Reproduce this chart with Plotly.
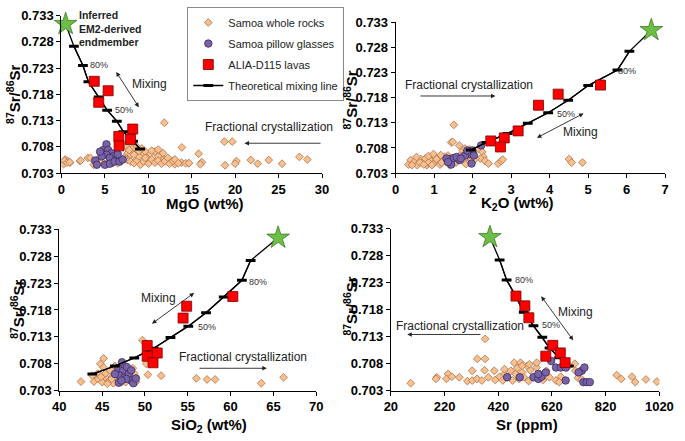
import plotly.graph_objects as go

# ---------------- DATA ----------------
# Panel 1: MgO (wt%) vs 87Sr/86Sr
mgo_wr = [11.86, 18.77, 19.67, 13.87, 15.80, 16.17, 16.0, 18.85, 20.15, 20.0, 21.8, 22.6, 23.87, 25.4, 27.4, 28.3,
          14.65, 13.83, 13.05, 12.27, 11.67, 11.5, 0.26, 0.45, 0.74, 1.0, 2.16, 3.05, 4.0, 0.37, 0.67, 0.97, 2.23,
          3.35, 3.72, 7.43, 8.18, 7.62, 7.99, 8.55, 9.29, 9.66, 10.22, 10.78, 11.15, 11.7, 7.62, 7.99, 8.36, 8.73,
          9.1, 9.48, 9.85, 10.04, 10.41, 10.78, 11.15, 11.52, 11.9, 12.27, 12.45, 12.82, 13.08, 13.46, 14.31, 14.68,
          8.92, 9.66, 7.25, 6.88, 6.5, 5.95, 5.39, 4.83, 4.46, 4.16, 8.36, 8.92, 7.8, 8.73, 9.29, 10.4, 11.15]
sr_mgo_wr = [0.7126, 0.7090, 0.7090, 0.7079, 0.7067, 0.7051, 0.7047, 0.7045, 0.7053, 0.7048, 0.7055, 0.7048, 0.7055,
             0.7048, 0.7061, 0.7056, 0.7049, 0.7050, 0.7047, 0.7051, 0.7059, 0.7068, 0.7047, 0.7056, 0.7053, 0.7050,
             0.7053, 0.7059, 0.7048, 0.7054, 0.7050, 0.7051, 0.7054, 0.7059, 0.7046, 0.7083, 0.7077, 0.7068, 0.7065,
             0.7068, 0.7066, 0.7071, 0.7066, 0.7071, 0.7062, 0.7068, 0.7055, 0.7052, 0.7049, 0.7054, 0.7046, 0.7052,
             0.7059, 0.7048, 0.7056, 0.7050, 0.7054, 0.7048, 0.7053, 0.7059, 0.7048, 0.7053, 0.7056, 0.7049, 0.7049,
             0.7049, 0.7062, 0.7059, 0.7059, 0.7052, 0.7049, 0.7049, 0.7051, 0.7049, 0.7052, 0.7056, 0.7065, 0.7072,
             0.7074, 0.7080, 0.7077, 0.7073, 0.7075]
mgo_gl = [5.2, 4.83, 5.39, 5.76, 5.2, 4.65, 5.95, 5.58, 6.32, 3.9, 4.09, 5.02, 5.58, 6.13, 6.69, 7.06, 6.5, 4.46]
sr_mgo_gl = [0.7085, 0.7074, 0.7074, 0.7068, 0.7065, 0.7062, 0.7062, 0.7059, 0.7056, 0.7054, 0.7046, 0.7046, 0.7048,
             0.7052, 0.7052, 0.7056, 0.7066, 0.7071]

# ALIA-D115 lavas (same 7 samples in every panel)
lava_sr = [0.7205, 0.7187, 0.7165, 0.7114, 0.7100, 0.7094, 0.7082]
lava_mgo = [3.79, 5.39, 4.31, 8.22, 6.62, 7.96, 6.65]
lava_k2o = [5.32, 4.22, 3.71, 3.18, 2.82, 2.47, 2.72]
lava_sio2 = [60.26, 54.87, 54.45, 50.26, 51.43, 50.26, 50.94]
lava_srppm = [486, 519, 534, 623, 651, 597, 669]

# Theoretical mixing line (endmember star first, then 10% steps)
mix_sr = [0.7314, 0.7272, 0.7235, 0.7204, 0.7175, 0.7150, 0.7129, 0.7109, 0.7091, 0.7076, 0.7061]
mix_mgo = [0.5, 1.45, 2.49, 3.12, 4.31, 5.28, 6.39, 7.14, 8.25, 9.07]
mix_k2o = [6.64, 6.07, 5.76, 5.00, 4.48, 3.96, 3.43, 2.91, 2.36, 1.95]
mix_sio2 = [65.55, 62.34, 61.32, 59.2, 57.13, 55.06, 52.98, 51.02, 48.75, 46.49, 43.85]
mix_srppm = [389, 425, 451, 486, 515, 551, 584, 611, 647, 683]
star_sr = 0.7314

# Panel 2: K2O
k2o_wr = [1.51, 1.44, 1.48, 1.65, 1.74, 1.80, 1.92, 2.05, 2.15, 2.25, 2.28, 2.2, 2.32, 2.41, 2.66, 2.74, 2.78, 4.5,
          4.57, 4.85, 0.33, 0.39, 0.48, 0.56, 0.65, 0.71, 0.81, 0.9, 0.98, 1.02, 1.11, 1.15, 1.23, 1.32, 1.36, 1.4,
          1.48, 1.57, 1.65, 1.74, 1.82, 1.9, 1.99, 2.07, 0.54, 0.63, 0.77, 0.85, 0.94, 1.06, 1.19, 1.28, 0.85, 0.73,
          0.42, 0.98, 1.17, 1.86, 1.78, 1.94]
sr_k2o_wr = [0.7126, 0.7091, 0.7092, 0.7085, 0.7075, 0.7079, 0.7077, 0.7075, 0.7078, 0.7072, 0.7062, 0.7059, 0.7054,
             0.7049, 0.7049, 0.7054, 0.7057, 0.7058, 0.7051, 0.7051, 0.7047, 0.7056, 0.7052, 0.7046, 0.7058, 0.7052,
             0.7046, 0.7056, 0.7049, 0.7062, 0.7054, 0.7047, 0.7059, 0.7052, 0.7065, 0.7046, 0.7059, 0.7051, 0.7064,
             0.7056, 0.7048, 0.7062, 0.7052, 0.7059, 0.7062, 0.7051, 0.7059, 0.7051, 0.7046, 0.7058, 0.7051, 0.7063,
             0.7064, 0.7047, 0.7046, 0.7068, 0.7066, 0.7069, 0.7067, 0.7053]
k2o_gl = [2.22, 1.99, 1.9, 2.03, 1.97, 1.4, 1.5, 1.44, 1.65, 1.58, 1.32, 1.8, 1.69, 1.36, 1.86]
sr_k2o_gl = [0.7085, 0.7075, 0.7068, 0.7065, 0.7049, 0.7058, 0.7060, 0.7047, 0.7056, 0.7062, 0.7059, 0.7065, 0.7059,
             0.7052, 0.7075]

# Panel 3: SiO2
sio2_wr = [49.7, 42.53, 45.17, 44.79, 45.17, 43.85, 44.04, 50.15, 50.34, 51.89, 56.0, 57.25, 58.19, 63.58, 66.19,
           44.53, 45.0, 45.43, 45.85, 46.3, 46.75, 45.36, 45.92, 46.5, 47.0, 47.43, 47.89, 48.38, 48.75, 48.1, 48.57,
           48.94, 47.28, 46.3, 45.62, 46.87, 47.62, 44.49, 44.87, 46.68, 46.11, 47.74, 48.57]
sr_sio2_wr = [0.7124, 0.7047, 0.7090, 0.7080, 0.7073, 0.7058, 0.7047, 0.7080, 0.7060, 0.7058, 0.7053, 0.7051, 0.7051,
              0.7044, 0.7055, 0.7052, 0.7046, 0.7054, 0.7049, 0.7058, 0.7050, 0.7062, 0.7068, 0.7076, 0.7064, 0.7055,
              0.7061, 0.7052, 0.7062, 0.7070, 0.7072, 0.7046, 0.7046, 0.7044, 0.7043, 0.7067, 0.7076, 0.7062, 0.7056,
              0.7055, 0.7052, 0.7046, 0.7046]
sio2_gl = [47.32, 46.87, 47.43, 47.89, 47.06, 47.62, 48.11, 48.38, 46.94, 48.64, 48.94, 46.49, 47.81, 47.25, 48.38]
sr_sio2_gl = [0.7083, 0.7072, 0.7067, 0.7074, 0.7058, 0.7055, 0.7061, 0.7049, 0.7045, 0.7044, 0.7053, 0.7061, 0.7052,
              0.7049, 0.7068]

# Panel 4: Sr (ppm)
srppm_wr = [94, 191, 188, 233, 227, 247, 275, 305, 323, 341, 342, 371, 369, 371, 359, 383, 405, 409, 425, 437, 443,
            455, 467, 473, 479, 485, 491, 497, 503, 509, 515, 527, 533, 539, 551, 563, 575, 587, 599, 611, 635, 653,
            677, 705, 707, 717, 731, 861, 878, 918, 930, 970, 1011, 323, 443, 509, 563, 536, 647]
sr_srppm_wr = [0.7044, 0.7055, 0.7052, 0.7061, 0.7052, 0.7056, 0.7055, 0.7048, 0.7049, 0.7052, 0.7089, 0.7089, 0.7068,
               0.7126, 0.7049, 0.7055, 0.7067, 0.7050, 0.7056, 0.7049, 0.7061, 0.7055, 0.7067, 0.7049, 0.7082, 0.7061,
               0.7072, 0.7052, 0.7082, 0.7064, 0.7055, 0.7076, 0.7048, 0.7068, 0.7055, 0.7073, 0.7061, 0.7050, 0.7067,
               0.7055, 0.7049, 0.7056, 0.7073, 0.7080, 0.7067, 0.7054, 0.7051, 0.7059, 0.7052, 0.7056, 0.7046, 0.7051,
               0.7047, 0.7067, 0.7070, 0.7076, 0.7082, 0.7079, 0.7046]
srppm_gl = [453, 500, 551, 569, 581, 597, 617, 635, 653, 671, 671, 731, 741, 719, 737, 749, 761, 569]
sr_srppm_gl = [0.7055, 0.7055, 0.7055, 0.7052, 0.7056, 0.7064, 0.7085, 0.7073, 0.7073, 0.7073, 0.7049, 0.7067, 0.7073,
               0.7064, 0.7046, 0.7046, 0.7046, 0.7061]

y_ticks = [0.703, 0.708, 0.713, 0.718, 0.723, 0.728, 0.733]
x_ticks = [[0, 5, 10, 15, 20, 25, 30], [0, 1, 2, 3, 4, 5, 6, 7],
           [40, 45, 50, 55, 60, 65, 70], [20, 220, 420, 620, 820, 1020]]
x_titles = ["MgO (wt%)", "K<sub>2</sub>O (wt%)", "SiO<sub>2</sub> (wt%)", "Sr (ppm)"]
y_title = "<sup>87</sup>Sr/<sup>86</sup>Sr"

# ---------------- STYLE ----------------
FONT = "Arial, Liberation Sans, sans-serif"
WR = dict(symbol="diamond", size=6, color="#F9BF8C", line=dict(color="#A87450", width=0.8))
GL = dict(symbol="circle", size=7.5, color="#7A62A6", line=dict(color="#3A2C5E", width=0.8))
LV = dict(symbol="square", size=10, color="#FF0000", line=dict(color="#7A0000", width=0.8))
ST = dict(symbol="star", size=17, color="#6CBE45", line=dict(color="#3F7A2A", width=0.8))
MX = dict(symbol="line-ew", size=7, line=dict(color="black", width=3))

panels = [
    dict(xa="x", ya="y", wr=(mgo_wr, sr_mgo_wr), gl=(mgo_gl, sr_mgo_gl), lv=lava_mgo, mx=mix_mgo,
         xd=[56 / 685, 325 / 685], yd=[1 - 172 / 441, 1 - 9 / 441], xr=[0, 30]),
    dict(xa="x2", ya="y2", wr=(k2o_wr, sr_k2o_wr), gl=(k2o_gl, sr_k2o_gl), lv=lava_k2o, mx=mix_k2o,
         xd=[401 / 685, 679 / 685], yd=[1 - 172 / 441, 1 - 15.7 / 441], xr=[0, 7]),
    dict(xa="x3", ya="y3", wr=(sio2_wr, sr_sio2_wr), gl=(sio2_gl, sr_sio2_gl), lv=lava_sio2, mx=mix_sio2,
         xd=[54 / 685, 319 / 685], yd=[1 - 397.3 / 441, 1 - 230 / 441], xr=[40, 70]),
    dict(xa="x4", ya="y4", wr=(srppm_wr, sr_srppm_wr), gl=(srppm_gl, sr_srppm_gl), lv=lava_srppm, mx=mix_srppm,
         xd=[396 / 685, 673 / 685], yd=[1 - 397.3 / 441, 1 - 229.3 / 441], xr=[20, 1020]),
]

fig = go.Figure()
for i, p in enumerate(panels):
    first = i == 0
    fig.add_trace(go.Scatter(x=p["wr"][0], y=p["wr"][1], mode="markers", marker=WR, name="Samoa whole rocks",
                             xaxis=p["xa"], yaxis=p["ya"], showlegend=first, legendrank=1, legendgroup="g1"))
    fig.add_trace(go.Scatter(x=p["gl"][0], y=p["gl"][1], mode="markers", marker=GL, name="Samoa pillow glasses",
                             xaxis=p["xa"], yaxis=p["ya"], showlegend=first, legendrank=2, legendgroup="g2"))
    n = len(p["mx"])
    fig.add_trace(go.Scatter(x=p["mx"], y=mix_sr[:n], mode="lines", line=dict(color="black", width=1.3),
                             xaxis=p["xa"], yaxis=p["ya"], showlegend=False, hoverinfo="skip"))
    fig.add_trace(go.Scatter(x=p["mx"][1:], y=mix_sr[1:n], mode="lines+markers", marker=MX,
                             line=dict(color="black", width=1.3), name="Theoretical mixing line",
                             xaxis=p["xa"], yaxis=p["ya"], showlegend=first, legendrank=4, legendgroup="g4"))
    fig.add_trace(go.Scatter(x=p["lv"], y=lava_sr, mode="markers", marker=LV, name="ALIA-D115 lavas",
                             xaxis=p["xa"], yaxis=p["ya"], showlegend=first, legendrank=3, legendgroup="g3"))
    fig.add_trace(go.Scatter(x=[p["mx"][0]], y=[star_sr], mode="markers", marker=ST, cliponaxis=False,
                             xaxis=p["xa"], yaxis=p["ya"], showlegend=False, name="Inferred EM2-derived endmember"))

axis_common = dict(showline=True, linecolor="black", linewidth=1, ticks="outside", ticklen=4, tickcolor="black",
                   showgrid=False, zeroline=False, ticklabeloverflow="allow",
                   tickfont=dict(family=FONT, size=13, color="black", weight="bold"))
layout = {}
for i, p in enumerate(panels):
    sx = "" if i == 0 else str(i + 1)
    layout["xaxis" + sx] = dict(domain=p["xd"], range=p["xr"], anchor=p["ya"], tickmode="array",
                                tickvals=x_ticks[i], **axis_common)
    layout["yaxis" + sx] = dict(domain=p["yd"], range=[0.703, 0.733], anchor=p["xa"], tickmode="array",
                                tickvals=y_ticks, tickformat=".3f", **axis_common)
fig.update_layout(**layout)

ann = []
def txt(text, x, y, ref, size=12, color="#222", xanchor="center", bold=False, angle=0):
    ann.append(dict(text=text, x=x, y=y, xref=ref[0], yref=ref[1], showarrow=False, textangle=angle,
                    xanchor=xanchor, yanchor="middle",
                    font=dict(family=FONT, size=size, color=color, weight="bold" if bold else "normal")))

def arrow(x0, y0, x1, y1, ref, both):
    ann.append(dict(x=x1, y=y1, ax=x0, ay=y0, xref=ref[0], yref=ref[1], axref=ref[0], ayref=ref[1],
                    text="", showarrow=True, arrowhead=2, arrowsize=1, arrowwidth=0.9, arrowcolor="#222",
                    startarrowhead=2, startarrowsize=1, arrowside="end+start" if both else "end"))

# axis titles
tpos = [(203.7, 203.5, 6.5, 90.7), (526.7, 203.5, 354, 96.7), (208.3, 433.5, 10.5, 313.3), (536.7, 432.5, 354, 310)]
for i, (xx, xy, yx, yy) in enumerate(tpos):
    txt(x_titles[i], xx / 685, 1 - xy / 441, ("paper", "paper"), size=15, color="black", bold=True)
    txt(y_title, yx / 685, 1 - yy / 441, ("paper", "paper"), size=15, color="black", bold=True, angle=-90)

# Panel 1 annotations
r1 = ("x", "y")
ann.append(dict(text="Inferred<br>EM2-derived<br>endmember", x=72 / 685, y=1 - 0.5 / 441, xref="paper",
                yref="paper", showarrow=False, xanchor="left", yanchor="top", align="left",
                font=dict(family=FONT, size=10.5, color="#222", weight="bold")))
arrow(6.21, 0.72256, 8.92, 0.71556, r1, True)
txt("Mixing", 10.15, 0.7200, r1)
arrow(30, 0.7087, 21.08, 0.7087, r1, False)
txt("Fractional crystallization", 23.9, 0.7117, r1)
txt("80%", 3.1, 0.72353, r1, size=9, color="#333", xanchor="left")
txt("50%", 6.0, 0.7150, r1, size=9, color="#333", xanchor="left")
# Panel 2
r2 = ("x2", "y2")
arrow(0.604, 0.71833, 2.59, 0.71833, r2, False)
txt("Fractional crystallization", 1.91, 0.72044, r2)
arrow(3.63, 0.70987, 4.88, 0.71487, r2, True)
txt("Mixing", 4.81, 0.71121, r2)
txt("80%", 5.72, 0.72333, r2, size=9, color="#333", xanchor="left")
txt("50%", 4.13, 0.71467, r2, size=9, color="#333", xanchor="left")
# Panel 3
r3 = ("x3", "y3")
arrow(50.64, 0.71525, 55.74, 0.72117, r3, True)
txt("Mixing", 51.63, 0.72027, r3)
arrow(56.19, 0.70718, 64.23, 0.70718, r3, False)
txt("Fractional crystallization", 61.43, 0.70921, r3)
txt("80%", 61.96, 0.72319, r3, size=9, color="#333", xanchor="left")
txt("50%", 55.96, 0.71477, r3, size=9, color="#333", xanchor="left")
# Panel 4
r4 = ("x4", "y4")
arrow(576, 0.72073, 699, 0.71234, r4, True)
txt("Mixing", 709, 0.71752, r4)
arrow(359, 0.71341, 81, 0.71341, r4, False)
txt("Fractional crystallization", 279, 0.71502, r4)
txt("80%", 474, 0.72346, r4, size=9, color="#333", xanchor="left")
txt("50%", 576, 0.71514, r4, size=9, color="#333", xanchor="left")

fig.update_layout(
    width=685, height=441, margin=dict(l=0, r=0, t=0, b=0),
    paper_bgcolor="white", plot_bgcolor="white", annotations=ann,
    font=dict(family=FONT, color="#222"),
    legend=dict(x=186 / 685, y=1, xanchor="left", yanchor="top", bgcolor="white", bordercolor="#888",
                borderwidth=1, font=dict(family=FONT, size=11, color="#222"), tracegroupgap=2,
                itemwidth=30),
)
fig.write_html("out.html", config={"displayModeBar": False},
               post_script="document.body.style.margin='0px';")
